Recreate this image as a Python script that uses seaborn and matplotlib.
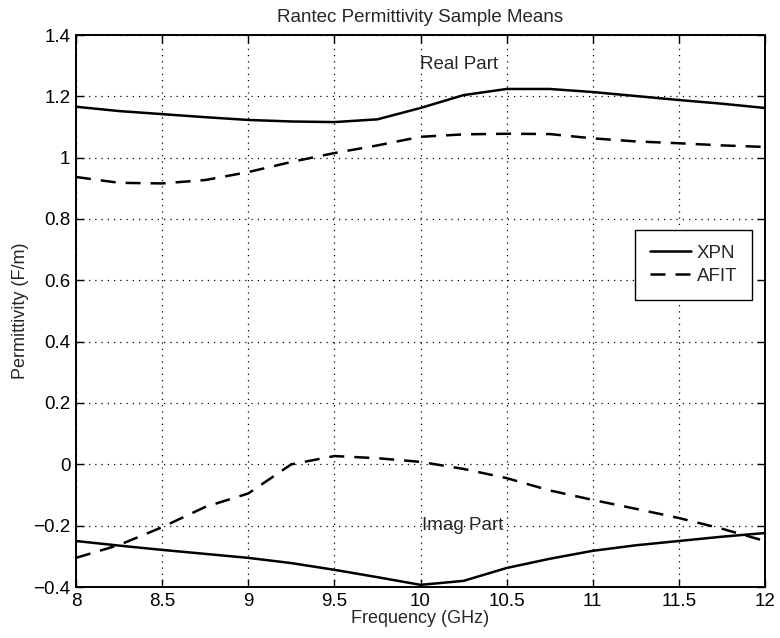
import numpy as np
import pandas as pd
import seaborn as sns
import matplotlib
matplotlib.use('Agg')
import matplotlib.pyplot as plt

# frequency points (GHz)
freq = [8.0, 8.25, 8.5, 8.75, 9.0, 9.25, 9.5, 9.75, 10.0, 10.25, 10.5, 10.75, 11.0, 11.25, 11.5, 11.75, 12.0]

# real part
xpn_real = [1.166, 1.152, 1.142, 1.132, 1.123, 1.118, 1.116, 1.125, 1.162, 1.204, 1.224, 1.224, 1.214, 1.201, 1.188, 1.176, 1.162]
afit_real = [0.937, 0.918, 0.916, 0.927, 0.953, 0.986, 1.015, 1.040, 1.068, 1.076, 1.078, 1.077, 1.063, 1.053, 1.047, 1.040, 1.035]

# imaginary part
xpn_imag = [-0.250, -0.265, -0.279, -0.292, -0.305, -0.322, -0.344, -0.368, -0.393, -0.380, -0.338, -0.308, -0.282, -0.264, -0.250, -0.236, -0.224]
afit_imag = [-0.305, -0.263, -0.205, -0.139, -0.095, 0.000, 0.027, 0.020, 0.008, -0.015, -0.045, -0.085, -0.116, -0.145, -0.175, -0.210, -0.250]

sns.set_style('white')
plt.rcParams['font.family'] = ['Liberation Sans', 'DejaVu Sans']

df = pd.DataFrame({'freq': freq, 'xpn_r': xpn_real, 'afit_r': afit_real,
                   'xpn_i': xpn_imag, 'afit_i': afit_imag})

fig = plt.figure(figsize=(7.8, 6.38), dpi=100)
ax = fig.add_axes([76/780, 1 - 587/638, 689/780, 552/638])

sns.lineplot(data=df, x='freq', y='xpn_r', color='black', lw=1.8, ax=ax, label='XPN')
sns.lineplot(data=df, x='freq', y='afit_r', color='black', lw=1.8, ax=ax, label='AFIT')
ax.lines[1].set_dashes([6, 4])
sns.lineplot(data=df, x='freq', y='xpn_i', color='black', lw=1.8, ax=ax, legend=False)
sns.lineplot(data=df, x='freq', y='afit_i', color='black', lw=1.8, ax=ax, legend=False)
ax.lines[3].set_dashes([6, 4])

ax.set_xlim(8, 12)
ax.set_ylim(-0.4, 1.4)
ax.set_xticks(np.arange(8, 12.01, 0.5))
ax.set_xticklabels(['8', '8.5', '9', '9.5', '10', '10.5', '11', '11.5', '12'])
ax.set_yticks(np.arange(-0.4, 1.41, 0.2))
ax.set_yticklabels(['\u22120.4', '\u22120.2', '0', '0.2', '0.4', '0.6', '0.8', '1', '1.2', '1.4'])
ax.grid(True, color='black', linestyle=(0, (1, 4)), linewidth=0.9)
ax.tick_params(direction='in', length=6, width=1, labelsize=13.5, top=True, right=True,
               bottom=True, left=True, colors='black', pad=4)
for s in ax.spines.values():
    s.set_color('black')
    s.set_linewidth(1.4)

ax.set_xlabel('Frequency (GHz)', fontsize=13, labelpad=0)
ax.set_ylabel('Permittivity (F/m)', fontsize=13, labelpad=3)
ax.set_title('Rantec Permittivity Sample Means', fontsize=13.5, pad=9)

ax.text(10.0, 1.305, 'Real Part', fontsize=13.5, va='center')
ax.text(10.01, -0.198, 'Imag Part', fontsize=13.5, va='center')

leg = ax.legend(loc='upper left', bbox_to_anchor=(0.811, 0.647), fontsize=13.5,
                frameon=True, fancybox=False, framealpha=1, edgecolor='black',
                handlelength=2.2, borderpad=0.8, handletextpad=0.3, labelspacing=0.3,
                borderaxespad=0)
leg.get_frame().set_linewidth(1.0)

fig.savefig('out.png', dpi=100)
